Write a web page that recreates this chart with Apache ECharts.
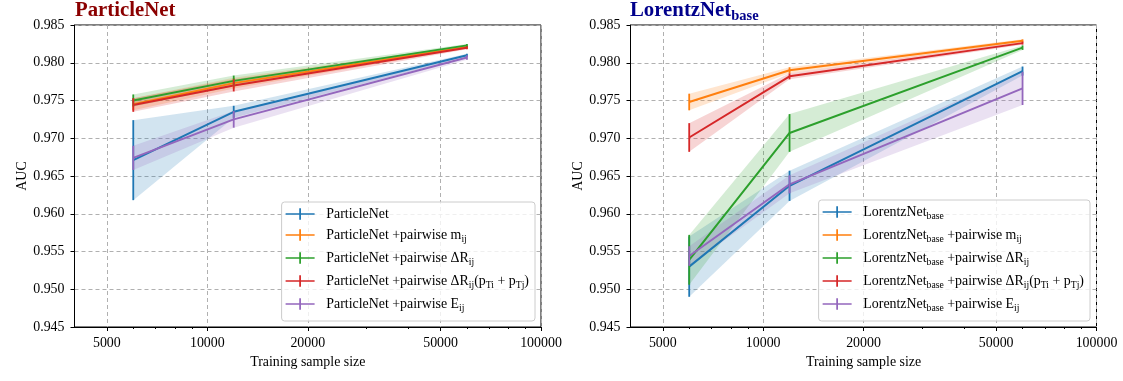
<!DOCTYPE html>
<html><head><meta charset="utf-8">
<script src="https://cdn.jsdelivr.net/npm/echarts@6/dist/echarts.min.js"></script>
<style>html,body{margin:0;padding:0;background:#fff}#c{width:1123px;height:381px}</style>
</head><body><div id="c"></div>
<script>
// ---------------- data ----------------
const sampleSizes = [6000, 12000, 60000];
const xMajorTicks = [5000, 10000, 20000, 50000, 100000];
const xMinorTicks = [6000, 7000, 8000, 9000, 30000, 40000, 60000, 70000, 80000, 90000];
const xRange = [4000, 100000];
const yRange = [0.945, 0.985];
const yStep = 0.005;

// ParticleNet panel
const pnBaseMean = [0.9671, 0.9735, 0.9810];
const pnBaseStd  = [0.0053, 0.0008, 0.0002];
const pnMijMean  = [0.9745, 0.9773, 0.9821];
const pnMijStd   = [0.0008, 0.0007, 0.0002];
const pnDRMean   = [0.9750, 0.9776, 0.9823];
const pnDRStd    = [0.0008, 0.0007, 0.0002];
const pnDRptMean = [0.9744, 0.9770, 0.9820];
const pnDRptStd  = [0.0009, 0.0008, 0.0002];
const pnEMean    = [0.9674, 0.9725, 0.9807];
const pnEStd     = [0.0016, 0.0011, 0.0003];

// LorentzNet_base panel
const lnBaseMean = [0.9530, 0.9637, 0.9789];
const lnBaseStd  = [0.0040, 0.0020, 0.0006];
const lnMijMean  = [0.9748, 0.9790, 0.9829];
const lnMijStd   = [0.0011, 0.0004, 0.0002];
const lnDRMean   = [0.9539, 0.9707, 0.9820];
const lnDRStd    = [0.0033, 0.0025, 0.0003];
const lnDRptMean = [0.9701, 0.9782, 0.9826];
const lnDRptStd  = [0.0019, 0.0004, 0.0002];
const lnEMean    = [0.9544, 0.9639, 0.9766];
const lnEStd     = [0.0013, 0.0012, 0.0022];

const colors = ['#1f77b4', '#ff7f0e', '#2ca02c', '#d62728', '#9467bd'];

const T = s => '{t|' + s + '}';
const S = s => '{s|' + s + '}';
const SP = '{sp| }';
const pnLabels = [
  T('ParticleNet'),
  T('ParticleNet +pairwise m') + S('ij'),
  T('ParticleNet +pairwise ΔR') + S('ij'),
  T('ParticleNet +pairwise ΔR') + S('ij') + T('(p') + S('Ti') + T(' + p') + S('Tj') + T(')'),
  T('ParticleNet +pairwise E') + S('ij')
];
const lnLabels = [
  T('LorentzNet') + S('base'),
  T('LorentzNet') + S('base') + T(' +pairwise m') + S('ij'),
  T('LorentzNet') + S('base') + T(' +pairwise ΔR') + S('ij'),
  T('LorentzNet') + S('base') + T(' +pairwise ΔR') + S('ij') + T('(p') + S('Ti') + T(' + p') + S('Tj') + T(')'),
  T('LorentzNet') + S('base') + T(' +pairwise E') + S('ij')
];

// ---------------- build ----------------
const FONT = 'Liberation Serif';
const FS = 13.9;
const lg = v => Math.log10(v);
const lx = sampleSizes.map(lg);

const pnMeans = [pnBaseMean, pnMijMean, pnDRMean, pnDRptMean, pnEMean];
const pnStds  = [pnBaseStd, pnMijStd, pnDRStd, pnDRptStd, pnEStd];
const lnMeans = [lnBaseMean, lnMijMean, lnDRMean, lnDRptMean, lnEMean];
const lnStds  = [lnBaseStd, lnMijStd, lnDRStd, lnDRptStd, lnEStd];
const pnNames = pnLabels.map((_, i) => 'pn' + i);
const lnNames = lnLabels.map((_, i) => 'ln' + i);
const labelMap = {};
pnNames.forEach((n, i) => labelMap[n] = SP + pnLabels[i]);
lnNames.forEach((n, i) => labelMap[n] = SP + lnLabels[i]);

function hexA(hex, a) {
  const r = parseInt(hex.slice(1, 3), 16), g = parseInt(hex.slice(3, 5), 16), b = parseInt(hex.slice(5, 7), 16);
  return 'rgba(' + r + ',' + g + ',' + b + ',' + a + ')';
}

function panelSeries(xAxisIndex, yAxisIndex, names, means, stds) {
  const out = [];
  names.forEach((name, i) => {
    const m = means[i], s = stds[i], c = colors[i];
    const lo = m.map((v, k) => v - s[k]);
    const hi = m.map((v, k) => v + s[k]);
    const triples = lx.map((x, k) => [x, lo[k], hi[k]]);
    out.push({
      type: 'custom', name: name + '_band', xAxisIndex, yAxisIndex, z: 1, silent: true,
      data: triples, encode: { x: 0, y: [1, 2] },
      renderItem: (params, api) => {
        if (params.dataIndex !== 0) return null;
        const pts = [];
        for (let k = 0; k < triples.length; k++) pts.push(api.coord([triples[k][0], triples[k][2]]));
        for (let k = triples.length - 1; k >= 0; k--) pts.push(api.coord([triples[k][0], triples[k][1]]));
        return { type: 'polygon', shape: { points: pts }, style: { fill: hexA(c, 0.2), stroke: null } };
      }
    });
    out.push({
      type: 'line', name, xAxisIndex, yAxisIndex, z: 3, color: c,
      data: lx.map((x, k) => [x, m[k]]), showSymbol: false, symbol: 'none',
      lineStyle: { width: 2, color: c }
    });
    out.push({
      type: 'custom', name: name + '_err', xAxisIndex, yAxisIndex, z: 4, silent: true,
      data: triples, encode: { x: 0, y: [1, 2] },
      renderItem: (params, api) => {
        const p1 = api.coord([api.value(0), api.value(1)]);
        const p2 = api.coord([api.value(0), api.value(2)]);
        return { type: 'line', shape: { x1: p1[0], y1: p1[1], x2: p2[0], y2: p2[1] }, style: { stroke: c, lineWidth: 1.8 } };
      }
    });
  });
  return out;
}

const dash = { color: '#b0b0b0', width: 1, type: [4, 3] };

function majorX(gridIndex) {
  return {
    type: 'value', gridIndex, position: 'bottom', min: lg(xRange[0]), max: lg(xRange[1]),
    name: 'Training sample size', nameLocation: 'middle', nameGap: 28,
    nameTextStyle: { fontFamily: FONT, fontSize: FS, color: '#000' },
    axisLine: { show: true, onZero: false, lineStyle: { color: '#000', width: 1 } },
    axisTick: { show: true, length: 4, inside: false, lineStyle: { color: '#000' }, customValues: xMajorTicks.map(lg) },
    axisLabel: { show: true, margin: 9, fontFamily: FONT, fontSize: FS, color: '#000',
      customValues: xMajorTicks.map(lg), formatter: v => String(Math.round(Math.pow(10, v))) },
    splitLine: { show: true, lineStyle: dash }
  };
}
function minorX(gridIndex) {
  return {
    type: 'value', gridIndex, position: 'bottom', min: lg(xRange[0]), max: lg(xRange[1]),
    axisLine: { show: false, onZero: false },
    axisTick: { show: true, length: 2, inside: false, lineStyle: { color: '#000' }, customValues: xMinorTicks.map(lg) },
    axisLabel: { show: false },
    splitLine: { show: false }
  };
}
function yAx(gridIndex) {
  return {
    type: 'value', gridIndex, min: yRange[0], max: yRange[1], interval: yStep,
    name: 'AUC', nameLocation: 'middle', nameGap: 44,
    nameTextStyle: { fontFamily: FONT, fontSize: FS, color: '#000' },
    axisLine: { show: true, onZero: false, lineStyle: { color: '#000', width: 1 } },
    axisTick: { show: true, length: 4, lineStyle: { color: '#000' } },
    axisLabel: { margin: 10, fontFamily: FONT, fontSize: FS, color: '#000', formatter: v => v.toFixed(3) },
    splitLine: { show: true, lineStyle: dash }
  };
}

const richLegend = {
  t: { fontFamily: FONT, fontSize: FS, lineHeight: 18, color: '#000' },
  s: { fontFamily: FONT, fontSize: 9.7, lineHeight: 8.4, verticalAlign: 'bottom', color: '#000' },
  sp: { width: 6.7, fontSize: FS, lineHeight: 18 }
};
const legendBase = {
  orient: 'vertical', itemWidth: 29, itemHeight: 12, itemGap: 7,
  icon: 'path://M0,5.2 L30,5.2 L30,6.8 L0,6.8 Z M14.1,0 L15.9,0 L15.9,12 L14.1,12 Z',
  borderColor: '#cccccc', borderWidth: 1, borderRadius: 3, backgroundColor: 'rgba(255,255,255,0.8)',
  padding: [5, 6, 8, 4],
  formatter: n => labelMap[n],
  textStyle: { fontFamily: FONT, fontSize: FS, rich: richLegend },
  selectedMode: false
};

const option = {
  animation: false,
  backgroundColor: '#fff',
  title: [
    { text: 'ParticleNet', left: 75, top: -1, padding: 0,
      textStyle: { fontFamily: FONT, fontSize: 20.8, fontWeight: 'bold', color: '#8b0000', lineHeight: 24 } },
    { text: '{a|LorentzNet}{b|base}', left: 630, top: -2, padding: 0,
      textStyle: { rich: {
        a: { fontFamily: FONT, fontSize: 20.8, fontWeight: 'bold', color: '#00008b', lineHeight: 26 },
        b: { fontFamily: FONT, fontSize: 14.5, fontWeight: 'bold', color: '#00008b', lineHeight: 12, verticalAlign: 'bottom' }
      } } }
  ],
  grid: [
    { left: 74.5, right: 582, top: 25, bottom: 54, show: true, borderColor: '#000', borderWidth: 1, backgroundColor: 'transparent' },
    { left: 630.5, right: 26.5, top: 25, bottom: 54, show: true, borderColor: '#000', borderWidth: 1, backgroundColor: 'transparent' }
  ],
  xAxis: [majorX(0), minorX(0), majorX(1), minorX(1)],
  yAxis: [yAx(0), yAx(1)],
  legend: [
    Object.assign({}, legendBase, { data: pnNames, right: 588, bottom: 60 }),
    Object.assign({}, legendBase, { data: lnNames, right: 33, bottom: 60 })
  ],
  series: [].concat(
    panelSeries(0, 0, pnNames, pnMeans, pnStds),
    panelSeries(2, 1, lnNames, lnMeans, lnStds)
  )
};

const chart = echarts.init(document.getElementById('c'), null, { renderer: 'canvas' });
chart.setOption(option);
</script>
</body></html>
